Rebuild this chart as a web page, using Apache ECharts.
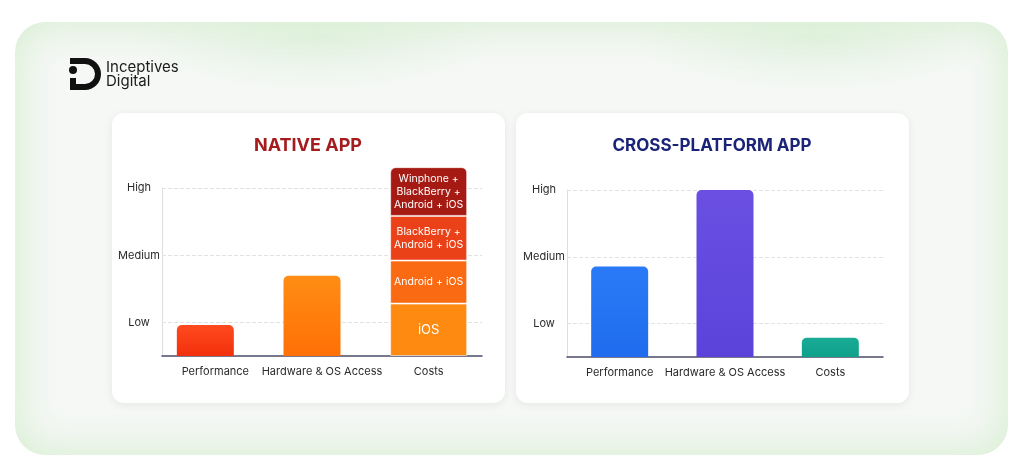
<!DOCTYPE html>
<html>
<head>
<meta charset="utf-8">
<script src="https://cdn.jsdelivr.net/npm/echarts@6/dist/echarts.min.js"></script>
<style>
  html, body { margin:0; padding:0; background:#ffffff; width:1024px; height:474px; overflow:hidden; }
  #frame {
    position:absolute; left:15px; top:22px; width:993px; height:433px; border-radius:30px;
    background:
      radial-gradient(ellipse 260px 80px at 300px 15px, rgba(205,236,200,0.45), rgba(255,255,255,0) 70%),
      radial-gradient(ellipse 260px 80px at 800px 15px, rgba(205,236,200,0.45), rgba(255,255,255,0) 70%),
      #f6f8f6;
    box-shadow: inset 0 0 36px 8px rgba(212,238,206,0.8);
  }
  #chart { position:absolute; left:0; top:0; width:1024px; height:474px; }
</style>
</head>
<body>
<div id="frame"></div>
<div id="chart"></div>
<script>
// ---- data ----
const categories = ['Performance', 'Hardware & OS Access', 'Costs'];
const levelTicks = [1, 3, 5];
const levelLabels = ['Low', 'Medium', 'High'];
const nativeValues = [0.92, 2.39, null];
const costSegmentNames = ['iOS', 'Android + iOS', 'BlackBerry +\nAndroid + iOS', 'Winphone +\nBlackBerry +\nAndroid + iOS'];
const costSegmentValues = [1.56, 1.28, 1.33, 1.45];
const crossValues = [2.71, 5.0, 0.58];

// ---- styles ----
const FONT = 'Inter, "Noto Sans", sans-serif';
const nativeBarColors = [
  ['#ff4a1e', '#f2300c'],
  ['#ff8d14', '#ff7006']
];
const costColors = ['#ff8a12', '#f96a12', '#ea4119', '#a51a12'];
const crossColors = [
  ['#2a7af7', '#1f6dee'],
  ['#6a4fe2', '#5b43da'],
  ['#18ab95', '#0fa08a']
];
function grad(c) {
  return { type: 'linear', x: 0, y: 0, x2: 0, y2: 1,
    colorStops: [{ offset: 0, color: c[0] }, { offset: 1, color: c[1] }] };
}
const levelMap = {};
levelTicks.forEach((t, i) => { levelMap[t] = levelLabels[i]; });

function yAxisFor(gridIndex) {
  return {
    type: 'value', gridIndex, min: 0, max: 5, interval: 1,
    axisLine: { show: true, lineStyle: { color: '#dedede', width: 1 } },
    axisTick: { show: false },
    splitLine: { show: false },
    axisLabel: {
      formatter: v => levelMap[v] || '',
      align: 'center', margin: 23, color: '#2a2a2a', fontSize: 11, fontFamily: FONT
    }
  };
}
function xAxisFor(gridIndex) {
  return {
    type: 'category', gridIndex, data: categories,
    axisLine: { lineStyle: { color: '#4b4b68', width: 1.5 } },
    axisTick: { show: false },
    axisLabel: { interval: 0, color: '#2a2a2a', fontSize: 11, fontFamily: FONT, margin: 10 }
  };
}
const gridMarks = {
  silent: true, symbol: 'none', z: 1,
  label: { show: false },
  lineStyle: { type: 'dashed', color: '#e2e2e2', width: 1 },
  data: levelTicks.map(t => ({ yAxis: t }))
};

const series = [];
// native single bars
series.push({
  type: 'bar', xAxisIndex: 0, yAxisIndex: 0, barWidth: 57, barGap: '-100%', clip: false,
  data: nativeValues.map((v, i) => v == null ? null : {
    value: v, itemStyle: { color: grad(nativeBarColors[i]), borderRadius: [5,5,0,0] }
  }),
  markLine: gridMarks
});
// native cost stack
costSegmentValues.forEach((v, i) => {
  const last = i === costSegmentValues.length - 1;
  series.push({
    type: 'bar', xAxisIndex: 0, yAxisIndex: 0, stack: 'costs', barWidth: 77, barGap: '-100%', clip: false,
    name: costSegmentNames[i],
    data: [null, null, v],
    itemStyle: {
      color: costColors[i], borderRadius: last ? [5,5,0,0] : 0,
      borderColor: 'rgba(255,255,255,0.55)', borderWidth: 1
    },
    label: {
      show: true, position: 'inside', formatter: costSegmentNames[i],
      color: '#ffffff', fontFamily: FONT, fontSize: i === 0 ? 13 : 10.5, lineHeight: 13
    }
  });
});
// cross-platform
series.push({
  type: 'bar', xAxisIndex: 1, yAxisIndex: 1, barWidth: 57, clip: false,
  data: crossValues.map((v, i) => ({ value: v, itemStyle: { color: grad(crossColors[i]), borderRadius: [5,5,0,0] } })),
  markLine: gridMarks
});

const chart = echarts.init(document.getElementById('chart'), null, { renderer: 'canvas' });
chart.setOption({
  animation: false,
  backgroundColor: 'transparent',
  grid: [
    { left: 162, top: 188, width: 320, height: 168 },
    { left: 567, top: 190, width: 316, height: 167 }
  ],
  xAxis: [xAxisFor(0), xAxisFor(1)],
  yAxis: [yAxisFor(0), yAxisFor(1)],
  series,
  graphic: [
    { type: 'rect', z: -10, shape: { x: 112, y: 113, width: 393, height: 290, r: 12 },
      style: { fill: '#ffffff', shadowBlur: 10, shadowColor: 'rgba(0,0,0,0.07)', shadowOffsetY: 2 } },
    { type: 'rect', z: -10, shape: { x: 516, y: 113, width: 393, height: 290, r: 12 },
      style: { fill: '#ffffff', shadowBlur: 10, shadowColor: 'rgba(0,0,0,0.07)', shadowOffsetY: 2 } },
    { type: 'text', z: 10, style: { text: 'NATIVE APP', x: 308, y: 146, align: 'center', verticalAlign: 'middle',
      font: 'bold 18px ' + FONT, fill: '#a51c1e' } },
    { type: 'text', z: 10, style: { text: 'CROSS-PLATFORM APP', x: 712, y: 146, align: 'center', verticalAlign: 'middle',
      font: 'bold 17px ' + FONT, fill: '#1b2378' } },
    // logo
    { type: 'polyline', z: 10, shape: { points: [[70, 61], [85, 61]] },
      style: { stroke: '#111111', lineWidth: 6, fill: null } },
    { type: 'arc', z: 10, shape: { cx: 85, cy: 74, r: 13, startAngle: -Math.PI / 2, endAngle: Math.PI / 2, clockwise: true },
      style: { stroke: '#111111', lineWidth: 6, fill: null } },
    { type: 'polyline', z: 10, shape: { points: [[85, 87], [73, 87], [73, 78]] },
      style: { stroke: '#111111', lineWidth: 6, fill: null } },
    { type: 'circle', z: 10, shape: { cx: 73, cy: 70, r: 4 }, style: { fill: '#111111' } },
    { type: 'text', z: 10, style: { text: 'Inceptives', x: 106, y: 67, verticalAlign: 'middle',
      font: '15px ' + FONT, fill: '#1a1a1a' } },
    { type: 'text', z: 10, style: { text: 'Digital', x: 106, y: 81, verticalAlign: 'middle',
      font: '15px ' + FONT, fill: '#1a1a1a' } }
  ]
});
</script>
</body>
</html>
